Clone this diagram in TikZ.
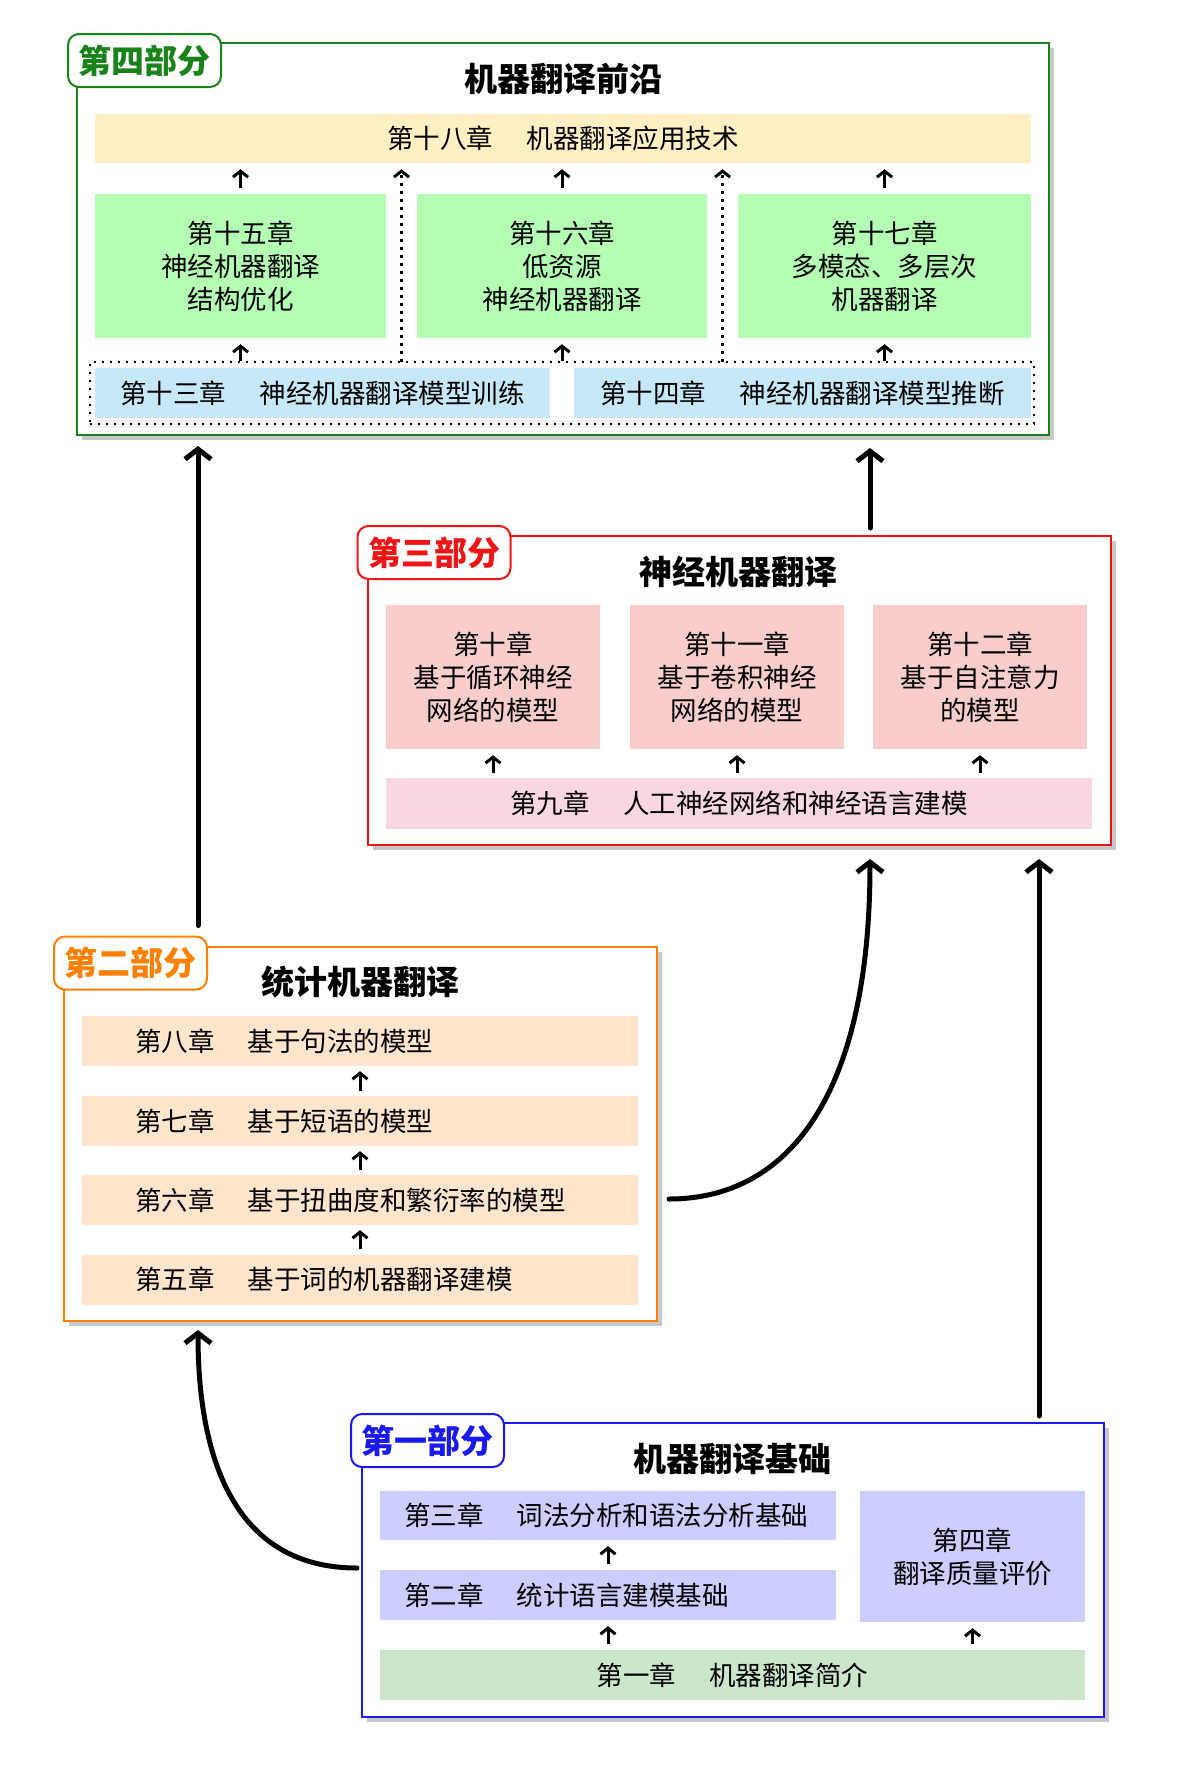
\documentclass[tikz,border=0pt]{standalone}
\usepackage{fontspec}
\setmainfont{Noto Sans CJK SC}
\usetikzlibrary{arrows.meta,shadows}
\definecolor{pgreen}{RGB}{25,130,25}
\definecolor{pred}{RGB}{240,20,20}
\definecolor{porange}{RGB}{255,128,0}
\definecolor{pblue}{RGB}{25,25,240}
\definecolor{cyellow}{RGB}{255,239,194}
\definecolor{cgreen}{RGB}{180,255,180}
\definecolor{cblue}{RGB}{198,232,248}
\definecolor{cpink}{RGB}{250,205,205}
\definecolor{clpink}{RGB}{248,214,228}
\definecolor{cpeach}{RGB}{255,229,203}
\definecolor{cviolet}{RGB}{205,205,255}
\definecolor{csage}{RGB}{204,230,204}
\definecolor{shadowgray}{RGB}{200,200,200}
\newcommand\myBody{\fontsize{26.5pt}{33pt}\selectfont}
\newcommand\myTitle{\fontsize{33pt}{38pt}\selectfont\bfseries}
\newcommand\gapA{\hspace{1.25em}}
\begin{document}
\begin{tikzpicture}[x=1pt,y=-1pt,
  frame/.style={draw, line width=2pt, fill=white, inner sep=0pt,
    drop shadow={shadow xshift=5pt, shadow yshift=-5pt, fill=shadowgray, opacity=1}},
  plabel/.style={draw, line width=2pt, fill=white, rounded corners=11pt, inner sep=0pt,
    minimum width=153pt, minimum height=53pt, font=\myTitle},
  ptitle/.style={font=\myTitle, inner sep=0pt},
  chap/.style={inner sep=0pt, font=\myBody, align=center},
  lchap/.style={inner ysep=0pt, font=\myBody, align=left},
  sarrow/.style={line width=3pt, -{Straight Barb[length=6pt,width=15pt]}},
  barrow/.style={line width=5pt, line cap=round, -{Straight Barb[length=10pt,width=26pt]}},
  darrow/.style={line width=3pt, dash pattern=on 3pt off 5pt, -{Straight Barb[length=6pt,width=15pt]}},
  dbox/.style={draw, line width=2pt, dash pattern=on 2pt off 6pt, inner sep=0pt}
]
\useasboundingbox (0,0) rectangle (1184,1767);

% ---------------- Part 4 ----------------
\node[frame, draw=pgreen, minimum width=972pt, minimum height=392pt] (p4frame) at (563,239) {};
\node[plabel, draw=pgreen, text=pgreen] (p4label) at (144.5,60.5) {第四部分};
\node[ptitle] (p4title) at (563,79) {机器翻译前沿};
\node[chap, fill=cyellow, minimum width=936pt, minimum height=49pt] (c18) at (563,138.5) {第十八章\gapA 机器翻译应用技术};
\node[chap, fill=cgreen, minimum width=291pt, minimum height=144pt] (c15) at (240.5,266) {第十五章\\神经机器翻译\\结构优化};
\node[chap, fill=cgreen, minimum width=290pt, minimum height=144pt] (c16) at (562,266) {第十六章\\低资源\\神经机器翻译};
\node[chap, fill=cgreen, minimum width=293pt, minimum height=144pt] (c17) at (884.5,266) {第十七章\\多模态、多层次\\机器翻译};
\node[dbox, minimum width=944pt, minimum height=62pt] (dbx) at (562,393) {};
\node[chap, fill=cblue, minimum width=455pt, minimum height=50pt] (c13) at (322.5,393) {第十三章\gapA 神经机器翻译模型训练};
\node[chap, fill=cblue, minimum width=457pt, minimum height=50pt] (c14) at (802.5,393) {第十四章\gapA 神经机器翻译模型推断};
\coordinate (d1) at (401.5,362);
\coordinate (d2) at (722.5,362);
\foreach \n in {c15,c16,c17}{
  \draw[sarrow, shorten <=6pt, shorten >=6pt] (\n.north) -- (\n.north |- c18.south);
  \draw[sarrow, shorten >=6pt] (dbx.north -| \n.south) -- (\n.south);
}
\draw[darrow, shorten >=6pt] (d1) -- (d1 |- c18.south);
\draw[darrow, shorten >=6pt] (d2) -- (d2 |- c18.south);

% ---------------- Part 3 ----------------
\node[frame, draw=pred, minimum width=743pt, minimum height=309pt] (p3frame) at (739.5,690.5) {};
\node[plabel, draw=pred, text=pred] (p3label) at (434,552.5) {第三部分};
\node[ptitle] (p3title) at (738,572) {神经机器翻译};
\node[chap, fill=cpink, minimum width=214pt, minimum height=144pt] (c10) at (493,677) {第十章\\基于循环神经\\网络的模型};
\node[chap, fill=cpink, minimum width=214pt, minimum height=144pt] (c11) at (737,677) {第十一章\\基于卷积神经\\网络的模型};
\node[chap, fill=cpink, minimum width=214pt, minimum height=144pt] (c12) at (980,677) {第十二章\\基于自注意力\\的模型};
\node[chap, fill=clpink, minimum width=706pt, minimum height=51pt] (c9) at (739,803.5) {第九章\gapA 人工神经网络和神经语言建模};
\foreach \n in {c10,c11,c12}{
  \draw[sarrow, shorten <=5pt, shorten >=6pt] (c9.north -| \n.south) -- (\n.south);
}

% ---------------- Part 2 ----------------
\node[frame, draw=porange, minimum width=593pt, minimum height=374pt] (p2frame) at (360.5,1134) {};
\node[plabel, draw=porange, text=porange] (p2label) at (130.5,963) {第二部分};
\node[ptitle] (p2title) at (360,982) {统计机器翻译};
\node[lchap, fill=cpeach, text width=450pt, inner xsep=53pt, minimum height=50pt] (c8) at (360,1041) {第八章\gapA 基于句法的模型};
\node[lchap, fill=cpeach, text width=450pt, inner xsep=53pt, minimum height=50pt] (c7) at (360,1121) {第七章\gapA 基于短语的模型};
\node[lchap, fill=cpeach, text width=450pt, inner xsep=53pt, minimum height=50pt] (c6) at (360,1200) {第六章\gapA 基于扭曲度和繁衍率的模型};
\node[lchap, fill=cpeach, text width=450pt, inner xsep=53pt, minimum height=50pt] (c5) at (360,1279.5) {第五章\gapA 基于词的机器翻译建模};
\draw[sarrow, shorten <=5pt, shorten >=5pt] (c7.north) -- (c8.south);
\draw[sarrow, shorten <=5pt, shorten >=5pt] (c6.north) -- (c7.south);
\draw[sarrow, shorten <=5pt, shorten >=5pt] (c5.north) -- (c6.south);

% ---------------- Part 1 ----------------
\node[frame, draw=pblue, minimum width=742pt, minimum height=294pt] (p1frame) at (733,1570) {};
\node[plabel, draw=pblue, text=pblue] (p1label) at (427.5,1440.5) {第一部分};
\node[ptitle] (p1title) at (732,1459) {机器翻译基础};
\node[lchap, fill=cviolet, text width=408pt, inner xsep=24pt, minimum height=49pt] (c3) at (608,1515.5) {第三章\gapA 词法分析和语法分析基础};
\node[lchap, fill=cviolet, text width=408pt, inner xsep=24pt, minimum height=50pt] (c2) at (608,1595) {第二章\gapA 统计语言建模基础};
\node[chap, fill=cviolet, minimum width=225pt, minimum height=131pt] (c4) at (972.5,1556.5) {第四章\\翻译质量评价};
\node[chap, fill=csage, minimum width=705pt, minimum height=50pt] (c1) at (732.5,1675) {第一章\gapA 机器翻译简介};
\draw[sarrow, shorten <=6pt, shorten >=6pt] (c2.north) -- (c3.south);
\draw[sarrow, shorten <=6pt, shorten >=6pt] (c1.north -| c2.south) -- (c2.south);
\draw[sarrow, shorten <=6pt, shorten >=6pt] (c1.north -| c4.south) -- (c4.south);

% ---------------- big arrows ----------------
\coordinate (ax1) at (198,0);
\coordinate (ax2) at (870,0);
\coordinate (ax3) at (1039,0);
\coordinate (ay4) at (0,1199);
\coordinate (ay5) at (0,1568);
\draw[barrow, shorten <=10pt, shorten >=10pt] (p2label.north -| ax1) -- (p4frame.south -| ax1);
\draw[barrow, shorten <=7pt, shorten >=12pt] (p3frame.north -| ax2) -- (p4frame.south -| ax2);
\draw[barrow, shorten <=6pt, shorten >=13pt] (p1frame.north -| ax3) -- (p3frame.south -| ax3);
\draw[barrow, shorten <=11pt, shorten >=13pt] (p2frame.east |- ay4) .. controls +(130,0) and +(0,250) .. (p3frame.south -| ax2);
\draw[barrow, shorten <=4pt, shorten >=8pt] (p1frame.west |- ay5) .. controls +(-130,0) and +(0,130) .. (p2frame.south -| ax1);
\end{tikzpicture}
\end{document}
